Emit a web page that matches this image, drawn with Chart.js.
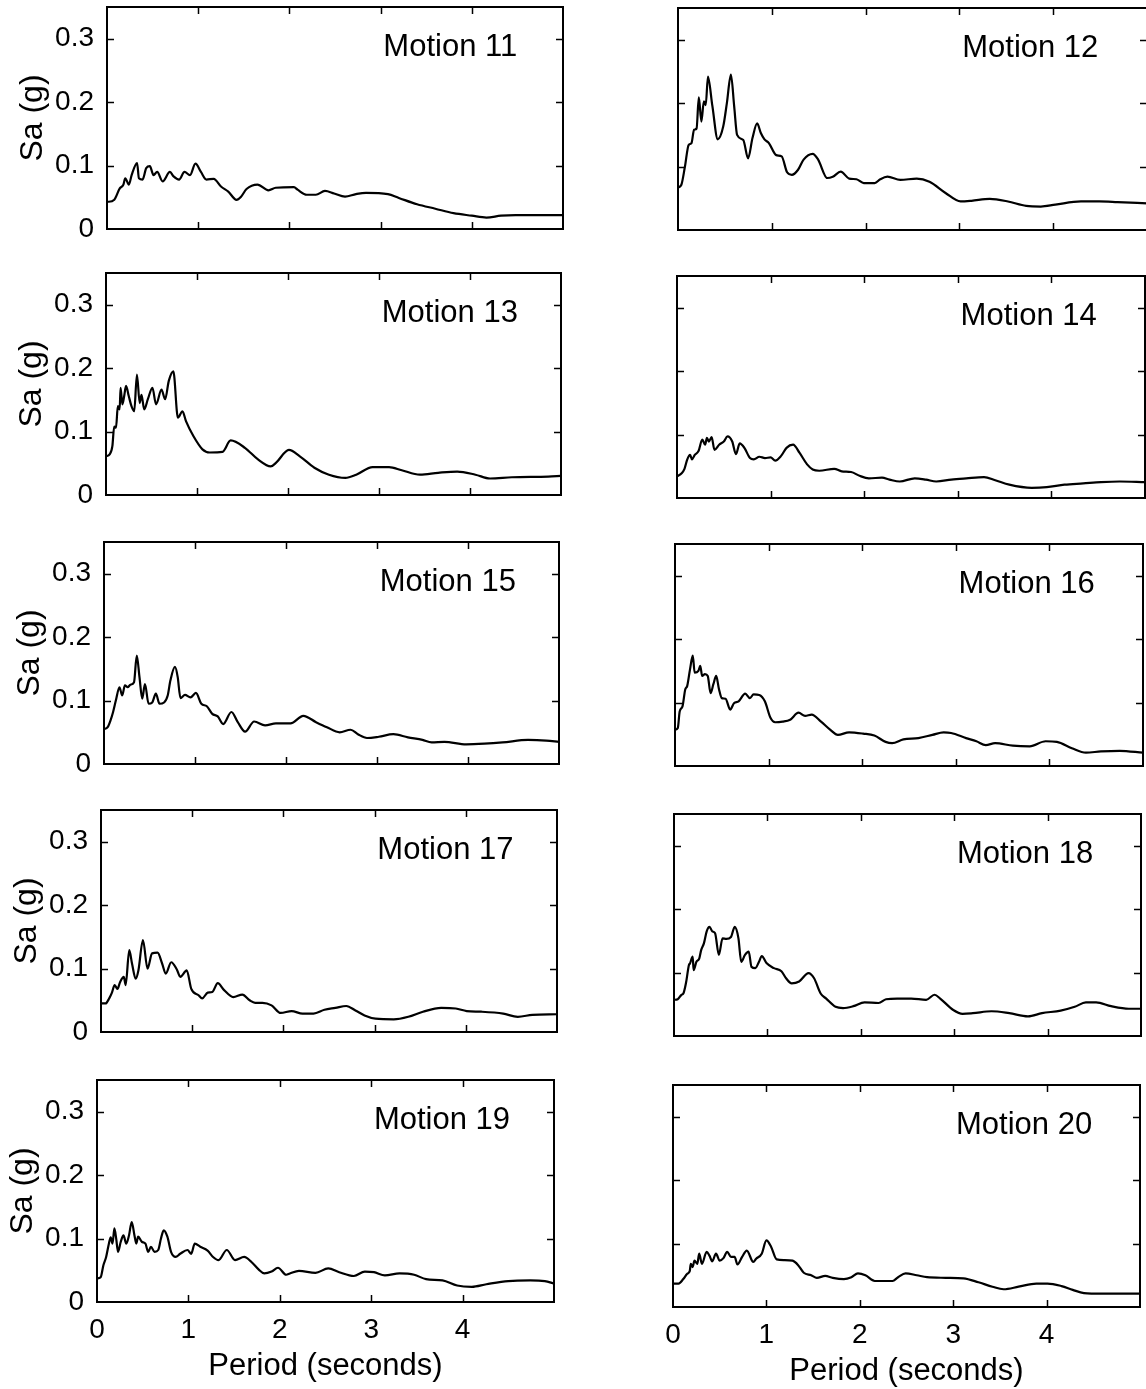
<!DOCTYPE html>
<html><head><meta charset="utf-8">
<script src="https://cdn.jsdelivr.net/npm/chart.js@4/dist/chart.umd.min.js"></script>
<style>
html,body{margin:0;padding:0;background:#fff;overflow:hidden;}
body{width:1146px;height:1389px;position:relative;}
.panel{position:absolute;}
</style></head><body>
<script>
// ---- data (period in seconds, Sa in g) ----
const m11T = [0,0.02,0.08,0.14,0.18,0.20,0.24,0.27,0.33,0.35,0.39,0.43,0.47,0.51,0.55,0.61,0.69,0.73,0.79,0.85,0.91,0.97,1.03,1.09,1.17,1.25,1.33,1.42,1.47,1.53,1.65,1.77,1.85,2.05,2.09,2.19,2.29,2.39,2.49,2.61,2.73,2.84,3.08,3.20,3.40,3.60,3.80,4.00,4.16,4.32,4.48,5.00];
const m11Sa = [0.043,0.043,0.046,0.064,0.07,0.08,0.07,0.085,0.104,0.08,0.078,0.096,0.099,0.085,0.09,0.075,0.09,0.083,0.078,0.09,0.085,0.103,0.09,0.078,0.079,0.067,0.059,0.046,0.051,0.063,0.07,0.061,0.065,0.066,0.062,0.054,0.054,0.06,0.056,0.051,0.055,0.057,0.055,0.049,0.039,0.032,0.025,0.021,0.018,0.021,0.022,0.022];

const m12T = [0,0.035,0.074,0.113,0.144,0.171,0.198,0.222,0.249,0.276,0.296,0.319,0.366,0.424,0.482,0.521,0.564,0.599,0.630,0.696,0.747,0.794,0.844,0.883,0.922,0.969,1.047,1.105,1.163,1.214,1.280,1.339,1.436,1.494,1.591,1.650,1.735,1.825,1.903,1.981,2.097,2.156,2.233,2.370,2.545,2.681,2.856,3.012,3.128,3.323,3.518,3.712,3.868,4.023,4.296,4.49,4.685,5.0];
const m12Sa = [0.067,0.071,0.1,0.134,0.137,0.158,0.16,0.209,0.171,0.203,0.197,0.242,0.196,0.143,0.163,0.2,0.245,0.195,0.15,0.142,0.113,0.145,0.168,0.153,0.143,0.137,0.118,0.116,0.091,0.087,0.095,0.111,0.12,0.111,0.082,0.084,0.092,0.081,0.08,0.074,0.074,0.08,0.084,0.079,0.081,0.076,0.058,0.045,0.046,0.049,0.045,0.038,0.037,0.04,0.045,0.045,0.044,0.042];

const m13T = [0,0.04,0.07,0.09,0.11,0.13,0.15,0.16,0.18,0.2,0.22,0.25,0.28,0.31,0.34,0.37,0.39,0.42,0.46,0.51,0.55,0.61,0.65,0.69,0.74,0.79,0.84,0.88,0.96,1.06,1.14,1.28,1.37,1.53,1.67,1.81,1.87,2.01,2.13,2.29,2.45,2.63,2.75,2.93,3.11,3.25,3.45,3.65,3.86,4.06,4.22,4.46,4.86,5.0];
const m13Sa = [0.061,0.064,0.077,0.108,0.106,0.14,0.135,0.169,0.143,0.156,0.172,0.156,0.14,0.132,0.19,0.145,0.158,0.135,0.151,0.169,0.143,0.166,0.151,0.18,0.195,0.122,0.132,0.116,0.093,0.072,0.067,0.068,0.086,0.074,0.056,0.045,0.051,0.071,0.061,0.043,0.032,0.027,0.032,0.044,0.044,0.039,0.032,0.035,0.037,0.032,0.026,0.028,0.029,0.03];

const m14T = [0,0.05,0.08,0.11,0.14,0.16,0.19,0.23,0.27,0.30,0.32,0.34,0.37,0.40,0.45,0.50,0.54,0.59,0.63,0.67,0.72,0.78,0.82,0.88,0.94,1.0,1.05,1.11,1.17,1.24,1.31,1.39,1.45,1.52,1.68,1.76,1.86,1.95,2.05,2.19,2.27,2.38,2.54,2.66,2.77,2.93,3.09,3.28,3.40,3.55,3.79,3.95,4.14,4.34,4.53,4.73,5.0];
const m14Sa = [0.034,0.039,0.046,0.061,0.068,0.061,0.068,0.074,0.092,0.084,0.095,0.089,0.096,0.076,0.084,0.089,0.097,0.089,0.069,0.086,0.079,0.063,0.061,0.065,0.063,0.064,0.059,0.066,0.079,0.084,0.071,0.053,0.045,0.043,0.046,0.042,0.041,0.035,0.031,0.032,0.029,0.026,0.031,0.029,0.026,0.029,0.031,0.033,0.028,0.021,0.016,0.017,0.021,0.023,0.025,0.026,0.025];

const m15T = [0,0.04,0.07,0.10,0.13,0.17,0.20,0.23,0.26,0.29,0.33,0.36,0.39,0.42,0.45,0.49,0.53,0.57,0.61,0.66,0.70,0.73,0.78,0.81,0.84,0.89,0.95,1.01,1.07,1.13,1.19,1.25,1.31,1.40,1.47,1.55,1.65,1.77,1.89,2.05,2.19,2.33,2.45,2.59,2.71,2.79,2.89,3.02,3.18,3.34,3.50,3.60,3.74,3.98,4.18,4.38,4.66,4.86,5.0];
const m15Sa = [0.055,0.058,0.068,0.082,0.1,0.121,0.108,0.124,0.121,0.125,0.129,0.171,0.137,0.103,0.126,0.095,0.097,0.111,0.095,0.097,0.108,0.132,0.153,0.137,0.104,0.109,0.105,0.112,0.095,0.091,0.079,0.075,0.063,0.082,0.066,0.051,0.067,0.061,0.064,0.064,0.076,0.066,0.058,0.05,0.054,0.047,0.041,0.043,0.047,0.042,0.038,0.034,0.035,0.031,0.032,0.034,0.038,0.037,0.035];

const m16T = [0,0.03,0.05,0.08,0.11,0.13,0.16,0.19,0.21,0.25,0.27,0.29,0.32,0.35,0.38,0.41,0.44,0.47,0.50,0.54,0.59,0.63,0.68,0.75,0.80,0.84,0.90,0.96,1.02,1.07,1.15,1.23,1.32,1.39,1.46,1.56,1.66,1.74,1.86,2.01,2.13,2.25,2.32,2.44,2.60,2.75,2.87,2.95,3.11,3.22,3.32,3.42,3.61,3.79,3.96,4.08,4.24,4.39,4.55,4.75,5.0];
const m16Sa = [0.057,0.06,0.086,0.094,0.121,0.126,0.152,0.174,0.147,0.15,0.158,0.142,0.145,0.142,0.115,0.129,0.142,0.121,0.107,0.106,0.089,0.099,0.102,0.114,0.107,0.113,0.112,0.102,0.076,0.069,0.07,0.073,0.084,0.079,0.081,0.07,0.057,0.049,0.053,0.051,0.048,0.038,0.036,0.042,0.044,0.049,0.053,0.052,0.044,0.039,0.033,0.036,0.032,0.031,0.039,0.038,0.028,0.021,0.023,0.024,0.021];

const m17T = [0,0.05,0.09,0.12,0.15,0.18,0.21,0.25,0.27,0.31,0.34,0.38,0.41,0.46,0.51,0.56,0.62,0.67,0.71,0.77,0.83,0.87,0.94,0.99,1.07,1.11,1.17,1.22,1.28,1.35,1.45,1.55,1.63,1.69,1.77,1.87,1.97,2.09,2.21,2.33,2.45,2.57,2.69,2.79,2.89,3.01,3.21,3.37,3.53,3.73,3.89,4.01,4.17,4.41,4.57,4.73,5.0];
const m17Sa = [0.045,0.045,0.053,0.062,0.074,0.068,0.079,0.087,0.074,0.129,0.108,0.084,0.097,0.145,0.1,0.124,0.125,0.108,0.092,0.11,0.099,0.087,0.097,0.068,0.058,0.053,0.062,0.063,0.077,0.066,0.055,0.059,0.05,0.046,0.046,0.042,0.03,0.033,0.029,0.029,0.035,0.038,0.041,0.034,0.026,0.021,0.02,0.024,0.032,0.038,0.037,0.033,0.032,0.029,0.024,0.027,0.028];

const m18T = [0,0.04,0.08,0.10,0.13,0.16,0.17,0.20,0.21,0.24,0.27,0.29,0.32,0.35,0.38,0.41,0.44,0.48,0.52,0.56,0.61,0.65,0.69,0.72,0.76,0.80,0.83,0.87,0.91,0.94,0.99,1.07,1.15,1.20,1.26,1.34,1.44,1.50,1.57,1.63,1.73,1.81,1.92,2.04,2.19,2.27,2.39,2.54,2.70,2.79,2.85,2.99,3.09,3.20,3.40,3.59,3.79,3.94,4.14,4.29,4.41,4.52,4.68,4.87,5.0];
const m18Sa = [0.057,0.058,0.065,0.067,0.085,0.112,0.114,0.125,0.104,0.117,0.122,0.135,0.146,0.165,0.172,0.165,0.162,0.128,0.154,0.153,0.156,0.172,0.154,0.117,0.128,0.133,0.109,0.107,0.117,0.126,0.115,0.107,0.102,0.091,0.083,0.086,0.099,0.091,0.067,0.059,0.046,0.044,0.047,0.053,0.052,0.058,0.059,0.059,0.057,0.065,0.059,0.041,0.035,0.036,0.039,0.036,0.031,0.036,0.04,0.046,0.053,0.053,0.047,0.043,0.043];

const m19T = [0,0.04,0.07,0.10,0.13,0.15,0.17,0.19,0.21,0.23,0.26,0.29,0.32,0.35,0.38,0.41,0.43,0.45,0.49,0.53,0.56,0.59,0.63,0.67,0.70,0.73,0.77,0.81,0.86,0.91,0.99,1.03,1.07,1.13,1.21,1.27,1.33,1.42,1.51,1.61,1.69,1.77,1.83,1.91,1.98,2.07,2.11,2.21,2.39,2.53,2.65,2.81,2.93,3.03,3.15,3.31,3.47,3.60,3.78,3.94,4.10,4.26,4.50,4.74,4.90,5.0];
const m19Sa = [0.037,0.039,0.058,0.071,0.092,0.102,0.092,0.116,0.1,0.079,0.095,0.105,0.092,0.105,0.126,0.105,0.092,0.103,0.095,0.092,0.079,0.087,0.079,0.082,0.1,0.113,0.103,0.079,0.071,0.076,0.082,0.076,0.092,0.087,0.081,0.071,0.066,0.082,0.066,0.071,0.063,0.051,0.045,0.048,0.054,0.043,0.045,0.049,0.046,0.053,0.047,0.041,0.048,0.047,0.042,0.045,0.043,0.036,0.034,0.026,0.024,0.028,0.033,0.034,0.033,0.029];

const m20T = [0,0.06,0.11,0.15,0.18,0.19,0.21,0.23,0.26,0.28,0.31,0.36,0.39,0.42,0.46,0.50,0.54,0.58,0.62,0.66,0.69,0.74,0.79,0.86,0.89,0.95,1.0,1.05,1.11,1.19,1.28,1.34,1.40,1.48,1.54,1.63,1.71,1.83,1.91,1.98,2.06,2.16,2.26,2.35,2.41,2.49,2.61,2.72,2.92,3.11,3.27,3.42,3.54,3.70,3.89,4.01,4.16,4.28,4.40,4.59,5.0];
const m20Sa = [0.037,0.037,0.044,0.052,0.057,0.068,0.063,0.073,0.068,0.084,0.068,0.087,0.081,0.072,0.084,0.073,0.077,0.087,0.079,0.079,0.067,0.079,0.089,0.071,0.076,0.084,0.105,0.095,0.075,0.074,0.073,0.066,0.054,0.05,0.046,0.049,0.046,0.044,0.047,0.053,0.05,0.041,0.041,0.041,0.047,0.053,0.05,0.047,0.046,0.045,0.039,0.032,0.028,0.032,0.037,0.037,0.033,0.027,0.022,0.021,0.021];

const motionNames = ['Motion 11','Motion 12','Motion 13','Motion 14','Motion 15','Motion 16','Motion 17','Motion 18','Motion 19','Motion 20'];
const periodSeries = [m11T,m12T,m13T,m14T,m15T,m16T,m17T,m18T,m19T,m20T];
const saSeries = [m11Sa,m12Sa,m13Sa,m14Sa,m15Sa,m16Sa,m17Sa,m18Sa,m19Sa,m20Sa];
const xTicks = [0,1,2,3,4];
const xTickLabels = ['0','1','2','3','4'];
const yTicks = [0,0.1,0.2,0.3];
const yTickLabels = ['0','0.1','0.2','0.3'];
const xTitle = 'Period (seconds)';
const yTitle = 'Sa (g)';

// ---- layout (page pixels) ----
const panelRects = [
  {L:107,R:563,B:229},{L:678,R:1147,B:230},
  {L:106,R:561,B:495},{L:677,R:1145,B:498},
  {L:104,R:559,B:764},{L:675,R:1143,B:766},
  {L:101,R:557,B:1032},{L:674,R:1141,B:1036},
  {L:97,R:554,B:1302},{L:673,R:1140,B:1307}
];
const PLOT_H = 222;
const FONT = "'Liberation Sans', Arial, Helvetica, sans-serif";

const framePlugin = {
  id: 'frame',
  afterDatasetsDraw(chart, args, opts) {
    const {ctx, chartArea: {left, right, top, bottom}, scales: {x, y}} = chart;
    ctx.save();
    ctx.strokeStyle = '#000';
    ctx.lineWidth = 2;
    ctx.strokeRect(left, top, right - left, bottom - top);
    ctx.lineWidth = 1.5;
    const tl = 7;
    ctx.beginPath();
    xTicks.forEach(v => {
      if (v <= x.min || v >= x.max) return;
      const px = Math.round(x.getPixelForValue(v)) + 0.5;
      ctx.moveTo(px, bottom); ctx.lineTo(px, bottom - tl);
      ctx.moveTo(px, top); ctx.lineTo(px, top + tl);
    });
    yTicks.forEach(v => {
      if (v <= y.min || v >= y.max) return;
      const py = Math.round(y.getPixelForValue(v)) + 0.5;
      ctx.moveTo(left, py); ctx.lineTo(left + tl, py);
      ctx.moveTo(right, py); ctx.lineTo(right - tl, py);
    });
    ctx.stroke();
    ctx.fillStyle = '#000';
    ctx.font = '31px ' + FONT;
    ctx.textAlign = 'left';
    ctx.textBaseline = 'middle';
    ctx.fillText(opts.text, x.getPixelForValue(opts.lx), y.getPixelForValue(opts.ly));
    ctx.restore();
  }
};

panelRects.forEach((r, i) => {
  const col = i % 2, row = Math.floor(i / 2);
  const isLeft = col === 0, isBottom = row === 4;
  const AXW = isLeft ? 93 : 30;
  const AXH = isBottom ? 85 : 24;
  const padT = 10, padR = 10;
  const W = r.R - r.L;
  const div = document.createElement('div');
  div.className = 'panel';
  div.style.left = (r.L - AXW) + 'px';
  div.style.top = (r.B - PLOT_H - padT) + 'px';
  const cv = document.createElement('canvas');
  cv.width = AXW + W + padR;
  cv.height = padT + PLOT_H + AXH;
  cv.style.width = cv.width + 'px';
  cv.style.height = cv.height + 'px';
  div.appendChild(cv);
  document.body.appendChild(div);

  const T = periodSeries[i], S = saSeries[i];
  const n = Math.min(T.length, S.length);
  const pts = [];
  for (let k = 0; k < n; k++) pts.push({x: T[k], y: S[k]});

  new Chart(cv, {
    type: 'line',
    data: {datasets: [{data: pts, borderColor: '#000', borderWidth: 2.2, pointRadius: 0,
                       cubicInterpolationMode: 'monotone', fill: false}]},
    options: {
      responsive: false, animation: false, devicePixelRatio: 1,
      layout: {padding: {top: padT, right: padR, left: 0, bottom: 0}},
      plugins: {
        legend: {display: false}, tooltip: {enabled: false},
        frame: {text: motionNames[i], lx: 3.03, ly: 0.286}
      },
      scales: {
        x: {
          type: 'linear', min: 0, max: 5,
          afterBuildTicks: s => { s.ticks = xTicks.map(v => ({value: v})); },
          afterFit: s => { s.height = AXH; s.paddingLeft = 0; s.paddingRight = 0; s.paddingTop = 0; s.paddingBottom = 0; },
          grid: {display: false, drawTicks: false},
          border: {display: false},
          ticks: {display: isBottom, padding: 11, color: '#000', font: {family: FONT, size: 28},
                  maxRotation: 0, autoSkip: false,
                  callback: (v, idx) => xTickLabels[idx]},
          title: {display: isBottom, text: xTitle, color: '#000', font: {family: FONT, size: 31}, padding: {top: 0, bottom: 2}}
        },
        y: {
          type: 'linear', min: 0, max: 0.35,
          afterBuildTicks: s => { s.ticks = yTicks.map(v => ({value: v})); },
          afterFit: s => { s.width = AXW; s.paddingLeft = 0; s.paddingRight = 0; s.paddingTop = 0; s.paddingBottom = 0; },
          grid: {display: false, drawTicks: false},
          border: {display: false},
          ticks: {display: isLeft, padding: 13, color: '#000', font: {family: FONT, size: 28},
                  autoSkip: false, callback: (v, idx) => yTickLabels[idx]},
          title: {display: isLeft, text: yTitle, color: '#000', font: {family: FONT, size: 32}, padding: {top: 0, bottom: 0}}
        }
      }
    },
    plugins: [framePlugin]
  });
});
</script>
</body></html>
